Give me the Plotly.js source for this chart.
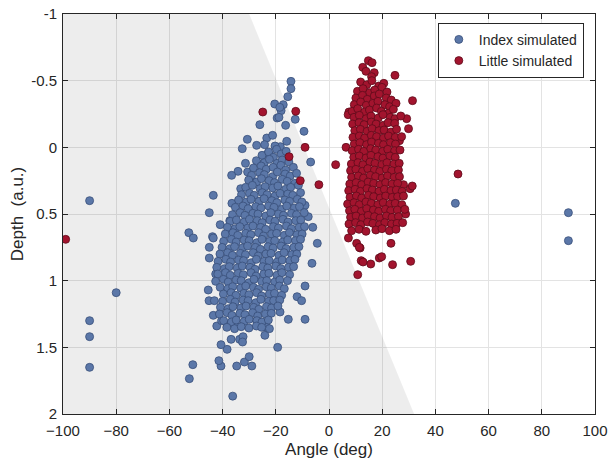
<!DOCTYPE html>
<html>
<head>
<meta charset="utf-8">
<script src="https://cdn.plot.ly/plotly-3.0.1.min.js"></script>
<style>html,body{margin:0;padding:0;background:#fff;}#chart{width:608px;height:463px;}</style>
</head>
<body>
<div id="chart"></div>
<script>
// Shaded region (angle, depth) vertices
var shadeX = [-100, -30, 32, -100];
var shadeY = [-1, -1, 2, 2];

var xTicks = [-100, -80, -60, -40, -20, 0, 20, 40, 60, 80, 100];
var yTicks = [-1, -0.5, 0, 0.5, 1, 1.5, 2];
var yTickText = ['-1', '-0.5', '0', '0.5', '1', '1.5', '2'];

// Index simulated: [angle, depth]
var indexPts = [
  [-90,0.40],[-80,1.09],[-90,1.30],[-90,1.42],[-90,1.65],[47.5,0.42],[90,0.49],[90,0.70],
  [-14.3,-0.495],[-14.3,-0.44],[-15.5,-0.38],[-20.4,-0.325],[-17.2,-0.32],[-18.0,-0.275],[-18.5,-0.30],
  [-19.5,-0.22],[-18.8,-0.225],[-12.7,-0.21],[-26.0,-0.17],[-16.3,-0.165],[-9.4,-0.12],[-30.7,-0.06],
  [-23.4,-0.07],[-21.2,-0.09],[-27.2,-0.015],[-24.2,-0.02],[-32.6,0.01],[-15.9,-0.045],[-18.3,-0.005],
  [-20.3,-0.01],[-6.9,0.11],[-31.4,0.12],[-24.6,0.12],[-21.9,0.065],[-30.6,0.185],[-34.2,0.18],
  [-36.6,0.21],[-25.8,0.19],[-43.5,0.36],[-45.0,0.49],[-36.5,0.42],[-40.9,0.58],[-37.3,0.55],
  [-6.1,0.60],[-33.2,0.31],[-27.8,0.26],[-19.7,0.015],[-23.2,0.05],[-36.3,0.62],[-43.8,0.67],
  [-7.8,0.52],[-9.0,0.435],
  [-45.4,1.07],[-45.1,1.15],[-43.1,1.15],[-43.5,1.26],[-42.2,1.34],[-40.4,1.30],[-45.0,0.83],
  [-45.0,0.75],[-43.5,0.68],[-52.7,0.64],[-51.0,0.68],[-42.6,0.95],[-4.4,0.72],[-6.4,0.87],
  [-9.0,1.04],[-12.0,1.12],[-10.3,1.15],[-9.0,1.29],[-15.3,1.29],[-18.4,1.235],[-24.1,1.41],[-19.3,1.50],
  [-52.5,1.735],[-51.2,1.63],[-36.2,1.866],[-34.7,1.64],[-29.0,1.64],[-31.8,1.61],[-30.0,1.57],
  [-40.6,1.64],[-41.4,1.60],[-38.3,1.515],[-40.6,1.48],[-36.8,1.44],[-33.6,1.44],[-32.3,1.42],[-32.5,1.46],
  [-38.2,1.33],[-34.9,1.34],[-36.0,1.29],[-27.2,1.30],[-24.7,1.32],[-23.4,1.35],[-22.4,1.36],
  [-25.2,0.06],[-22.7,0.035],[-20.9,0.075],[-18.0,0.05],[-16.1,0.03],
  [-27.3,0.10],[-24.3,0.115],[-22.4,0.09],[-19.5,0.12],[-17.6,0.095],[-15.1,0.11],
  [-28.4,0.155],[-25.5,0.14],[-23.6,0.165],[-21.0,0.15],[-18.1,0.135],[-16.3,0.17],[-13.4,0.15],
  [-29.1,0.21],[-26.1,0.19],[-24.3,0.205],[-21.2,0.22],[-19.4,0.185],[-16.5,0.20],[-14.6,0.215],[-12.2,0.195],
  [-30.2,0.245],[-27.2,0.26],[-25.4,0.235],[-22.5,0.25],[-20.5,0.265],[-17.6,0.24],[-15.7,0.255],[-12.8,0.27],
  [-31.3,0.30],[-28.8,0.285],[-25.9,0.31],[-24.0,0.295],[-21.1,0.305],[-19.2,0.29],[-16.3,0.315],[-14.4,0.30],[-11.5,0.285],
  [-32.9,0.355],[-29.9,0.345],[-28.1,0.36],[-25.1,0.34],[-23.3,0.355],[-20.3,0.365],[-18.4,0.345],[-15.5,0.35],[-13.6,0.36],[-10.7,0.34],
  [-34.0,0.395],[-31.1,0.41],[-29.3,0.39],[-26.3,0.405],[-24.4,0.385],[-21.5,0.40],[-19.6,0.415],[-16.6,0.395],[-14.8,0.405],[-11.9,0.39],[-10.2,0.41],
  [-35.2,0.45],[-32.3,0.44],[-30.4,0.46],[-27.5,0.445],[-25.6,0.455],[-22.7,0.44],[-20.7,0.45],[-17.8,0.465],[-15.9,0.44],[-13.0,0.455],[-11.1,0.445],
  [-36.3,0.505],[-33.4,0.49],[-31.6,0.51],[-28.6,0.495],[-26.7,0.50],[-23.8,0.515],[-21.9,0.49],[-19.0,0.50],[-17.1,0.51],[-14.1,0.495],[-12.2,0.505],[-9.3,0.49],
  [-37.1,0.555],[-34.8,0.545],[-31.9,0.56],[-29.9,0.54],[-27.0,0.55],[-25.1,0.565],[-22.2,0.545],[-20.3,0.555],[-17.3,0.54],[-15.4,0.56],[-12.5,0.55],[-10.6,0.545],
  [-38.2,0.60],[-35.3,0.61],[-33.5,0.595],[-30.5,0.605],[-28.6,0.59],[-25.7,0.60],[-23.8,0.615],[-20.9,0.595],[-19.0,0.605],[-16.0,0.59],[-14.1,0.61],[-11.2,0.60],[-9.2,0.595],
  [-39.0,0.65],[-36.1,0.64],[-34.3,0.66],[-31.3,0.645],[-29.4,0.655],[-26.5,0.64],[-24.6,0.665],[-21.6,0.65],[-19.7,0.645],[-16.8,0.66],[-14.9,0.64],[-12.0,0.655],[-10.1,0.65],
  [-39.6,0.705],[-36.7,0.69],[-34.9,0.71],[-31.9,0.695],[-30.0,0.70],[-27.1,0.715],[-25.2,0.69],[-22.3,0.705],[-20.4,0.70],[-17.4,0.71],[-15.5,0.695],[-12.6,0.70],[-10.7,0.69],
  [-40.2,0.75],[-37.3,0.76],[-35.5,0.745],[-32.5,0.755],[-30.6,0.74],[-27.7,0.75],[-25.8,0.765],[-22.9,0.745],[-21.0,0.755],[-18.0,0.74],[-16.1,0.76],[-13.2,0.75],[-11.3,0.745],
  [-41.0,0.80],[-38.1,0.79],[-36.3,0.81],[-33.3,0.795],[-31.4,0.805],[-28.5,0.79],[-26.6,0.815],[-23.7,0.80],[-21.8,0.795],[-18.8,0.81],[-16.9,0.79],[-14.0,0.805],[-12.1,0.80],
  [-41.7,0.855],[-38.8,0.84],[-37.0,0.86],[-34.0,0.845],[-32.1,0.85],[-29.2,0.865],[-27.3,0.84],[-24.4,0.855],[-22.5,0.85],[-19.5,0.86],[-17.6,0.845],[-14.7,0.85],[-12.8,0.84],
  [-42.2,0.90],[-39.3,0.91],[-37.5,0.895],[-34.5,0.905],[-32.6,0.89],[-29.7,0.90],[-27.8,0.915],[-24.9,0.895],[-23.0,0.905],[-20.0,0.89],[-18.1,0.91],[-15.2,0.90],[-13.3,0.895],
  [-41.8,0.95],[-38.9,0.94],[-37.1,0.96],[-34.1,0.945],[-32.2,0.955],[-29.3,0.94],[-27.4,0.965],[-24.5,0.95],[-22.6,0.945],[-19.6,0.96],[-17.7,0.94],[-14.8,0.955],
  [-42.6,1.005],[-39.7,0.99],[-37.9,1.01],[-34.9,0.995],[-33.0,1.00],[-30.1,1.015],[-28.2,0.99],[-25.3,1.005],[-23.4,1.00],[-20.4,1.01],[-18.5,0.995],[-15.6,1.00],
  [-40.9,1.05],[-38.0,1.06],[-36.2,1.045],[-33.2,1.055],[-31.3,1.04],[-28.4,1.05],[-26.5,1.065],[-23.6,1.045],[-21.7,1.055],[-18.7,1.04],[-16.8,1.06],
  [-39.7,1.10],[-36.8,1.09],[-35.0,1.11],[-32.0,1.095],[-30.1,1.105],[-27.2,1.09],[-25.3,1.115],[-22.4,1.10],[-20.5,1.095],[-17.8,1.11],
  [-40.0,1.155],[-37.1,1.14],[-35.3,1.16],[-32.3,1.145],[-30.4,1.15],[-27.5,1.165],[-25.6,1.14],[-22.7,1.155],[-20.8,1.15],[-18.5,1.145],
  [-40.8,1.20],[-37.9,1.21],[-36.1,1.195],[-33.1,1.205],[-31.2,1.19],[-28.3,1.20],[-26.4,1.215],[-23.5,1.195],[-21.6,1.205],[-19.2,1.19],
  [-41.2,1.25],[-38.3,1.24],[-36.5,1.26],[-33.5,1.245],[-31.6,1.255],[-28.7,1.24],[-26.8,1.265],[-23.9,1.25],[-21.7,1.245],
  [-39.6,1.30],[-36.7,1.31],[-34.9,1.295],[-31.9,1.305],[-30.0,1.29],[-27.1,1.30],[-25.2,1.31],[-22.8,1.295],
  [-38.4,1.35],[-35.5,1.36],[-33.0,1.345],[-30.1,1.355],[-27.3,1.34],[-25.3,1.35]
];

// Little simulated: [angle, depth]
var littlePts = [
  [-99,0.69],[48.5,0.20],[-24.9,-0.265],[-12.5,-0.27],[-9.0,0.0],[-15.0,0.07],[-10.8,0.25],[-3.8,0.28],[2.5,0.13],
  [14.8,-0.65],[16.2,-0.635],[12.7,-0.60],[13.9,-0.57],[17.0,-0.56],[24.8,-0.54],[16.0,-0.53],[31.4,-0.35],
  [29.2,-0.215],[29.9,-0.14],[26.5,-0.05],[7.5,-0.265],[7.2,-0.245],[6.4,0.0],[30.5,0.31],[31.3,0.29],[28.0,0.28],
  [7.3,0.68],[10.4,0.72],[11.7,0.755],[23.3,0.72],[12.1,0.85],[12.8,0.86],[15.7,0.875],[18.9,0.83],[19.8,0.82],
  [23.9,0.88],[30.7,0.855],[10.8,0.955],[11.4,0.75],[28.8,0.50],
  [11.9,-0.49],[14.2,-0.47],[16.1,-0.50],[18.7,-0.46],[20.6,-0.48],
  [10.7,-0.42],[12.8,-0.44],[15.3,-0.41],[17.2,-0.43],[19.9,-0.45],[21.8,-0.415],
  [10.1,-0.37],[12.6,-0.39],[14.4,-0.36],[17.0,-0.385],[18.9,-0.40],[21.5,-0.37],[23.4,-0.355],
  [9.5,-0.32],[11.9,-0.34],[14.0,-0.315],[16.5,-0.33],[18.4,-0.345],[21.0,-0.32],[22.8,-0.305],[25.2,-0.33],
  [8.7,-0.27],[10.8,-0.29],[13.4,-0.265],[15.2,-0.28],[17.9,-0.295],[19.7,-0.27],[22.3,-0.255],[24.2,-0.285],
  [9.4,-0.225],[11.4,-0.24],[14.0,-0.215],[15.8,-0.235],[18.5,-0.22],[20.3,-0.245],[23.0,-0.225],[24.8,-0.215],[27.0,-0.235],
  [8.9,-0.175],[11.3,-0.185],[13.2,-0.17],[15.9,-0.19],[17.7,-0.175],[20.4,-0.165],[22.2,-0.185],[24.7,-0.18],
  [9.7,-0.125],[11.8,-0.135],[14.3,-0.12],[16.2,-0.14],[18.8,-0.125],[20.7,-0.13],[23.3,-0.115],[25.4,-0.135],
  [9.0,-0.075],[11.4,-0.085],[13.4,-0.07],[15.9,-0.09],[17.9,-0.08],[20.5,-0.07],[22.4,-0.085],[24.9,-0.075],[27.3,-0.08],
  [9.5,-0.025],[11.6,-0.035],[14.1,-0.02],[16.0,-0.04],[18.6,-0.03],[20.5,-0.02],[23.1,-0.035],[25.0,-0.025],
  [8.7,0.025],[11.1,0.015],[13.1,0.03],[15.7,0.01],[17.6,0.02],[20.2,0.03],[22.1,0.015],[24.7,0.025],[26.7,0.02],
  [9.3,0.075],[11.4,0.065],[13.9,0.08],[15.8,0.06],[18.4,0.07],[20.3,0.08],[22.9,0.065],[24.9,0.075],
  [8.4,0.125],[10.9,0.115],[12.8,0.13],[15.4,0.11],[17.3,0.12],[19.9,0.13],[21.8,0.115],[24.4,0.125],[26.4,0.12],
  [8.1,0.175],[10.1,0.165],[12.6,0.18],[14.6,0.16],[17.1,0.17],[19.1,0.18],[21.6,0.165],[23.6,0.175],[26.1,0.17],
  [8.5,0.225],[11.0,0.215],[13.0,0.23],[15.5,0.21],[17.5,0.22],[20.0,0.23],[22.0,0.215],[24.5,0.225],[26.5,0.22],
  [7.8,0.275],[10.2,0.265],[12.3,0.28],[14.7,0.26],[16.8,0.27],[19.2,0.28],[21.3,0.265],[23.7,0.275],[25.8,0.27],
  [7.4,0.325],[9.8,0.315],[11.8,0.33],[14.3,0.31],[16.3,0.32],[18.8,0.33],[20.8,0.315],[23.3,0.325],[25.3,0.32],[27.5,0.33],
  [7.9,0.375],[10.3,0.365],[12.3,0.38],[14.8,0.36],[16.8,0.37],[19.3,0.38],[21.3,0.365],[23.8,0.375],[25.8,0.37],[28.0,0.365],
  [7.0,0.425],[9.4,0.415],[11.4,0.43],[13.9,0.41],[15.9,0.42],[18.4,0.43],[20.4,0.415],[22.9,0.425],[24.9,0.42],[27.4,0.43],
  [7.7,0.475],[9.7,0.465],[12.2,0.48],[14.2,0.46],[16.7,0.47],[18.7,0.48],[21.2,0.465],[23.2,0.475],[25.7,0.47],[28.5,0.465],
  [8.1,0.525],[10.2,0.515],[12.6,0.53],[14.7,0.51],[17.1,0.52],[19.2,0.53],[21.6,0.515],[23.7,0.525],[26.1,0.52],
  [7.5,0.575],[10.0,0.565],[12.0,0.58],[14.5,0.56],[16.5,0.57],[19.0,0.58],[21.0,0.565],[23.5,0.575],[25.6,0.57],[27.7,0.565],
  [8.5,0.625],[11.3,0.615],[13.9,0.63],[17.6,0.62],[19.9,0.61],[22.7,0.625],[25.2,0.615]
];

var fontFam = '"Liberation Sans", Arial, sans-serif';
var ink = '#262626';

var traces = [
  {
    x: shadeX, y: shadeY, type: 'scatter', mode: 'lines', fill: 'toself',
    fillcolor: 'rgba(0,0,0,0.07)', line: {width: 0, color: 'rgba(0,0,0,0)'},
    showlegend: false, hoverinfo: 'skip'
  },
  {
    x: indexPts.map(function(p){return p[0];}),
    y: indexPts.map(function(p){return p[1];}),
    type: 'scatter', mode: 'markers', name: 'Index simulated',
    marker: {size: 8, color: '#5b77a8', line: {color: '#394f7a', width: 0.8}}
  },
  {
    x: littlePts.map(function(p){return p[0];}),
    y: littlePts.map(function(p){return p[1];}),
    type: 'scatter', mode: 'markers', name: 'Little simulated',
    marker: {size: 8, color: '#a2142e', line: {color: '#5e0b1a', width: 0.8}}
  }
];

var layout = {
  width: 608, height: 463,
  margin: {l: 63, r: 13, t: 14, b: 49, pad: 0},
  paper_bgcolor: '#ffffff', plot_bgcolor: '#ffffff',
  font: {family: fontFam, size: 15, color: ink},
  showlegend: true,
  legend: {
    x: 0.979, xanchor: 'right', y: 0.978, yanchor: 'top',
    bgcolor: '#ffffff', bordercolor: ink, borderwidth: 1,
    font: {family: fontFam, size: 14, color: ink},
    tracegroupgap: 0
  },
  xaxis: {
    range: [-100, 100], tickmode: 'array', tickvals: xTicks,
    showgrid: true, gridcolor: '#e3e3e3', gridwidth: 1, zeroline: false,
    showline: true, linecolor: ink, linewidth: 1, mirror: 'ticks',
    ticks: 'inside', ticklen: 5, tickcolor: ink, tickwidth: 1,
    tickfont: {family: fontFam, size: 15, color: ink},
    ticklabelstandoff: 3,
    automargin: false,
    title: {text: 'Angle (deg)', font: {family: fontFam, size: 17, color: ink}, standoff: 5}
  },
  yaxis: {
    range: [2, -1], tickmode: 'array', tickvals: yTicks, ticktext: yTickText,
    showgrid: true, gridcolor: '#e3e3e3', gridwidth: 1, zeroline: false,
    showline: true, linecolor: ink, linewidth: 1, mirror: 'ticks',
    ticks: 'inside', ticklen: 5, tickcolor: ink, tickwidth: 1,
    tickfont: {family: fontFam, size: 15, color: ink},
    ticklabelstandoff: 2,
    automargin: false,
    title: {text: 'Depth\u00a0 (a.u.)', font: {family: fontFam, size: 17, color: ink}, standoff: 3}
  }
};

Plotly.newPlot('chart', traces, layout, {displayModeBar: false, staticPlot: true});
</script>
</body>
</html>
